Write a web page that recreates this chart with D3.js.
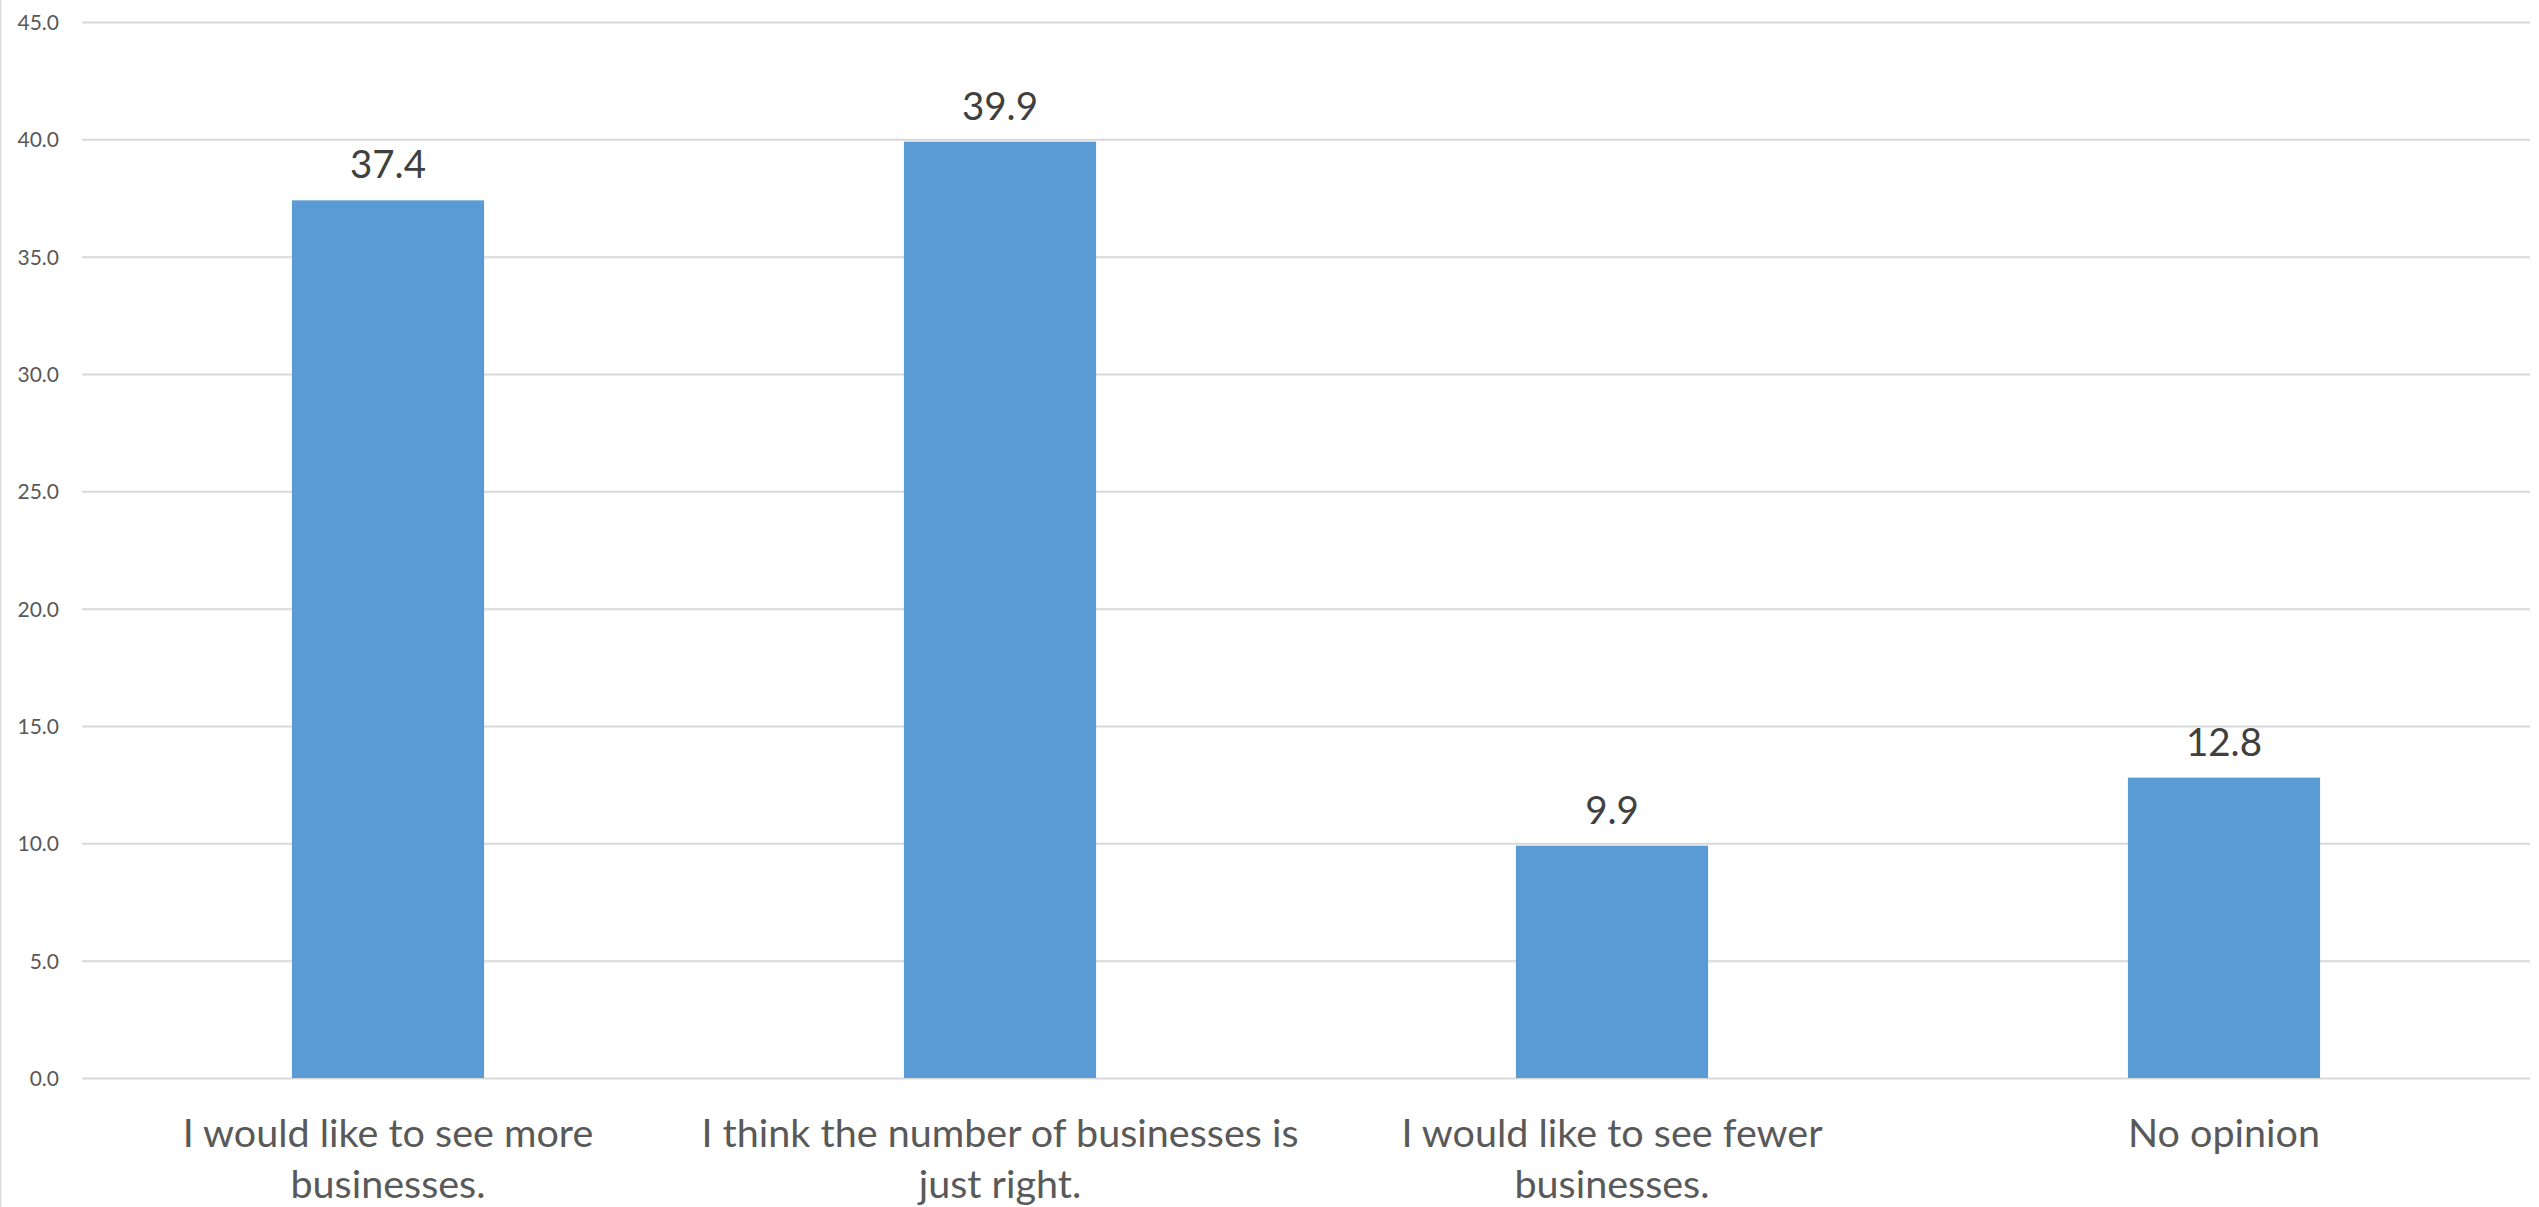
<!DOCTYPE html>
<html>
<head>
<meta charset="utf-8">
<script src="https://cdn.jsdelivr.net/npm/d3@7"></script>
<style>
  html, body { margin: 0; padding: 0; background: #ffffff; }
  svg { display: block; }
  text { font-family: Lato, "Open Sans", sans-serif; }
</style>
</head>
<body>
<svg id="chart" width="2539" height="1207"></svg>
<script>
// ---- data ----
const categories = [
  "I would like to see more businesses.",
  "I think the number of businesses is just right.",
  "I would like to see fewer businesses.",
  "No opinion"
];
const labelLines = [
  ["I would like to see more", "businesses."],
  ["I think the number of businesses is", "just right."],
  ["I would like to see fewer", "businesses."],
  ["No opinion"]
];
const values = [37.4, 39.9, 9.9, 12.8];
const yTicks = [0, 5, 10, 15, 20, 25, 30, 35, 40, 45];

// ---- layout ----
const W = 2539, H = 1207;
const plot = { left: 82, right: 2530, top: 22, bottom: 1078 };

const svg = d3.select("#chart");

// chart-area border (left edge visible)
svg.append("line")
  .attr("x1", 0.5).attr("x2", 0.5).attr("y1", 0).attr("y2", H)
  .attr("stroke", "#d9d9d9").attr("stroke-width", 1.5);

const x = d3.scaleBand()
  .domain(categories)
  .range([plot.left, plot.right])
  .paddingInner(0.686)
  .paddingOuter(0.343);

const y = d3.scaleLinear()
  .domain([0, 45])
  .range([plot.bottom, plot.top]);

// gridlines + tick labels
const yAxis = d3.axisLeft(y)
  .tickValues(yTicks)
  .tickFormat(d3.format(".1f"))
  .tickSize(-(plot.right - plot.left))
  .tickPadding(23);

const gy = svg.append("g")
  .attr("transform", `translate(${plot.left},0)`)
  .call(yAxis);
gy.select(".domain").remove();
gy.selectAll(".tick line")
  .attr("stroke", "#d9d9d9")
  .attr("stroke-width", 2);
gy.selectAll(".tick text")
  .attr("fill", "#595959")
  .attr("font-size", 21)
  .attr("font-family", "Lato, 'Open Sans', sans-serif")
  .attr("dy", "0.36em");

// bars
svg.append("g").selectAll("rect")
  .data(values)
  .join("rect")
  .attr("x", (d, i) => x(categories[i]))
  .attr("width", x.bandwidth())
  .attr("y", d => y(d))
  .attr("height", d => y(0) - y(d))
  .attr("fill", "#5b9bd5");

// value labels
svg.append("g").selectAll("text")
  .data(values)
  .join("text")
  .attr("x", (d, i) => x(categories[i]) + x.bandwidth() / 2)
  .attr("y", d => y(d) - 22)
  .attr("text-anchor", "middle")
  .attr("fill", "#404040")
  .attr("font-size", 38.5)
  .text(d => d3.format(".1f")(d));

// category labels
const cat = svg.append("g").selectAll("text")
  .data(labelLines)
  .join("text")
  .attr("text-anchor", "middle")
  .attr("fill", "#595959")
  .attr("font-size", 39.5)
  .attr("x", (d, i) => x(categories[i]) + x.bandwidth() / 2)
  .attr("y", 1147);
cat.selectAll("tspan")
  .data((d, i) => d.map(t => ({ t, i })))
  .join("tspan")
  .attr("x", d => x(categories[d.i]) + x.bandwidth() / 2)
  .attr("dy", (d, j) => j === 0 ? 0 : 51)
  .text(d => d.t);
</script>
</body>
</html>
